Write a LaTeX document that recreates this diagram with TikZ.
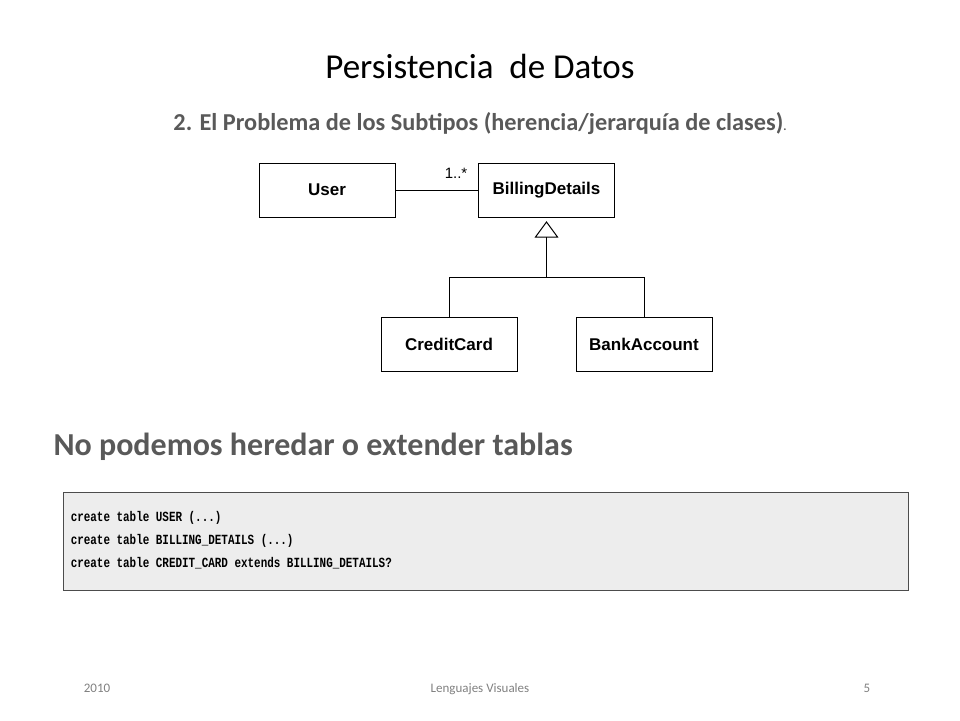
\documentclass[tikz,border=0pt]{standalone}
\usepackage{fontspec}
\setmainfont{Carlito}
\newfontfamily\umlfont{Liberation Sans}
\newfontfamily\codefont{Liberation Mono}
\definecolor{subgray}{HTML}{595959}
\definecolor{codebg}{HTML}{EDEDED}
\begin{document}
\begin{tikzpicture}[x=1pt,y=-1pt,
  cls/.style={draw,line width=1pt,minimum width=136pt,minimum height=54pt,inner sep=0,font=\umlfont\bfseries\fontsize{17}{19}\selectfont},
  link/.style={line width=1pt},
  foot/.style={text=gray,font=\fontsize{13}{15}\selectfont,anchor=base}]
\useasboundingbox (0,0) rectangle (960,720);
\node (title) at (480,66) {\fontsize{35}{40}\selectfont Persistencia\ \ de Datos};
\node[text=subgray] (sub) at (480,124) {\fontsize{24.3}{28}\selectfont\bfseries 2. El Problema de los Subtipos (herencia/jerarquía de clases)\fontsize{12}{14}\selectfont.};
\node[cls] (user) at (327,190) {User};
\node[cls] (bd) at (546.5,190) {BillingDetails};
\node[cls] (cc) at (449,344.5) {CreditCard};
\node[cls] (ba) at (644,344.5) {BankAccount};
\draw[link] (user) -- (bd);
\node[font=\umlfont\fontsize{15}{17}\selectfont] (mult) at (456,173) {1..*};
\coordinate (apex) at (546.5,222);
\coordinate (tl) at (535.5,237);
\coordinate (tr) at (557.5,237);
\coordinate (junc) at (546.5,277);
\coordinate (jl) at (449,277);
\coordinate (jr) at (644,277);
\draw[link,fill=white] (apex) -- (tl) -- (tr) -- cycle;
\draw[link] (546.5,237) -- (junc);
\draw[link] (jl) -- (jr);
\draw[link] (jl) -- (cc.north);
\draw[link] (jr) -- (ba.north);
\node[text=subgray,anchor=west] (nop) at (50,447) {\fontsize{32}{36}\selectfont\bfseries No podemos heredar o extender tablas};
\node[draw=black!70,line width=1.2pt,fill=codebg,minimum width=845pt,minimum height=98pt,anchor=north west] (code) at (63,492) {};
\node[anchor=west,align=left,xscale=0.78,yscale=1,transform shape,font=\codefont\bfseries\fontsize{14}{23}\selectfont] (codetxt) at (68,540) {create table USER (...)\\create table BILLING\_DETAILS (...)\\create table CREDIT\_CARD extends BILLING\_DETAILS?};
\node[foot] (f1) at (97,692) {2010};
\node[foot] (f2) at (480,692) {Lenguajes Visuales};
\node[foot] (f3) at (867,692) {5};
\end{tikzpicture}
\end{document}
